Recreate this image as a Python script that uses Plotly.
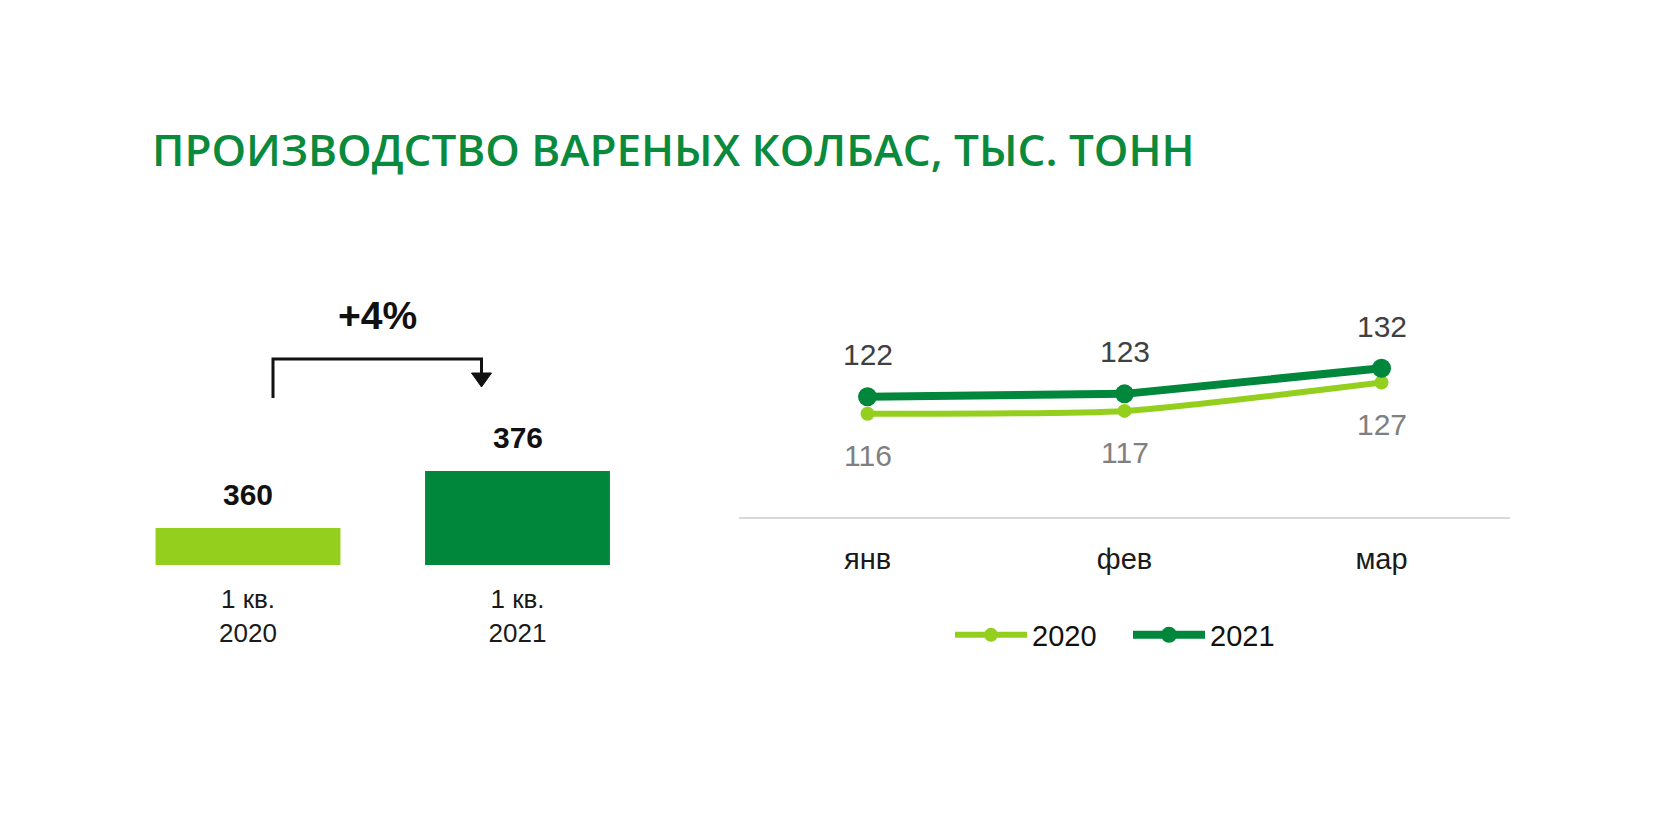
import plotly.graph_objects as go

# ---- data ----
quarter_labels = ["1 кв.<br>2020", "1 кв.<br>2021"]
quarter_values = [360, 376]
quarter_colors = ["#94CF1D", "#00873C"]
growth_label = "+4%"

months = ["янв", "фев", "мар"]
series_names = ["2020", "2021"]
values_2020 = [116, 117, 127]
values_2021 = [122, 123, 132]

title_text = "ПРОИЗВОДСТВО ВАРЕНЫХ КОЛБАС, ТЫС. ТОНН"

LIGHT = "#94CF1D"
DARK = "#00873C"
W, H = 1680, 840
FONT = "Liberation Sans, Arial, sans-serif"

def px_x(p):
    return p / W

def px_y(p):
    return 1 - p / H

fig = go.Figure()

# bars
fig.add_trace(go.Bar(
    x=quarter_labels, y=quarter_values, marker=dict(color=quarter_colors, line=dict(width=0)),
    xaxis="x", yaxis="y", showlegend=False, hoverinfo="skip",
))

# lines
fig.add_trace(go.Scatter(
    x=months, y=values_2020, name=series_names[0], mode="lines+markers",
    line=dict(color=LIGHT, width=6, shape="spline", smoothing=0.6),
    marker=dict(size=14, color=LIGHT), xaxis="x2", yaxis="y2",
))
fig.add_trace(go.Scatter(
    x=months, y=values_2021, name=series_names[1], mode="lines+markers",
    line=dict(color=DARK, width=8),
    marker=dict(size=19, color=DARK), xaxis="x2", yaxis="y2",
))

annotations = []
# title
annotations.append(dict(
    text=title_text, xref="paper", yref="paper", x=px_x(150), y=px_y(149),
    xanchor="left", yanchor="middle", showarrow=False,
    font=dict(family="Open Sans, sans-serif", size=44, color="#0A8A3C", weight=600),
))
# bar value labels
for lab, val in zip(quarter_labels, quarter_values):
    annotations.append(dict(
        text=f"<b>{val}</b>", x=lab, y=val, xref="x", yref="y",
        yanchor="middle", yshift=33, showarrow=False,
        font=dict(family=FONT, size=30, color="#111111"),
    ))
# growth label
annotations.append(dict(
    text=f"<b>{growth_label}</b>", xref="paper", yref="paper", x=px_x(377), y=px_y(315),
    xanchor="center", yanchor="middle", showarrow=False,
    font=dict(family=FONT, size=39, color="#111111"),
))
# line value labels
for m, v in zip(months, values_2021):
    annotations.append(dict(
        text=str(v), x=m, y=v, xref="x2", yref="y2", yanchor="middle", yshift=42,
        showarrow=False, font=dict(family=FONT, size=30, color="#404040"),
    ))
for m, v in zip(months, values_2020):
    annotations.append(dict(
        text=str(v), x=m, y=v, xref="x2", yref="y2", yanchor="middle", yshift=-42,
        showarrow=False, font=dict(family=FONT, size=30, color="#808080"),
    ))

shapes = [
    # bracket
    dict(type="path", xref="paper", yref="paper",
         path=f"M {px_x(273)},{px_y(398)} L {px_x(273)},{px_y(359)} L {px_x(481.5)},{px_y(359)} L {px_x(481.5)},{px_y(374)}",
         line=dict(color="#111111", width=3)),
    dict(type="path", xref="paper", yref="paper",
         path=f"M {px_x(471.5)},{px_y(373)} L {px_x(491.5)},{px_y(373)} L {px_x(481.5)},{px_y(387)} Z",
         line=dict(color="#111111", width=1), fillcolor="#111111"),
]

fig.update_layout(
    width=W, height=H,
    margin=dict(l=0, r=0, t=0, b=0),
    paper_bgcolor="white", plot_bgcolor="white",
    bargap=0.314,
    font=dict(family=FONT, color="#111111"),
    xaxis=dict(domain=[px_x(113.25), px_x(652.25)], range=[-0.5, 1.5], showgrid=False,
               showline=False, zeroline=False, ticks="",
               tickfont=dict(size=26, color="#1a1a1a"), ticklabelstandoff=16),
    yaxis=dict(domain=[px_y(565), px_y(280)], range=[349.6, 429.6], visible=False),
    xaxis2=dict(domain=[px_x(739), px_x(1510)], range=[-0.5, 2.5], anchor="y2",
                showgrid=False, zeroline=False, showline=True, linecolor="#D9D9D9", linewidth=2,
                ticks="", tickfont=dict(size=29, color="#1a1a1a"), ticklabelstandoff=15),
    yaxis2=dict(domain=[px_y(517), px_y(300)], range=[79.64, 156.05], visible=False, anchor="x2"),
    legend=dict(orientation="h", x=px_x(950), xanchor="left", y=px_y(635), yanchor="middle",
                font=dict(size=29, color="#111111"), itemwidth=72, entrywidth=91,
                bgcolor="rgba(0,0,0,0)"),
    annotations=annotations,
    shapes=shapes,
    showlegend=True,
)

fig.write_html("out.html", config={"displayModeBar": False},
               post_script="document.body.style.margin='0';")
